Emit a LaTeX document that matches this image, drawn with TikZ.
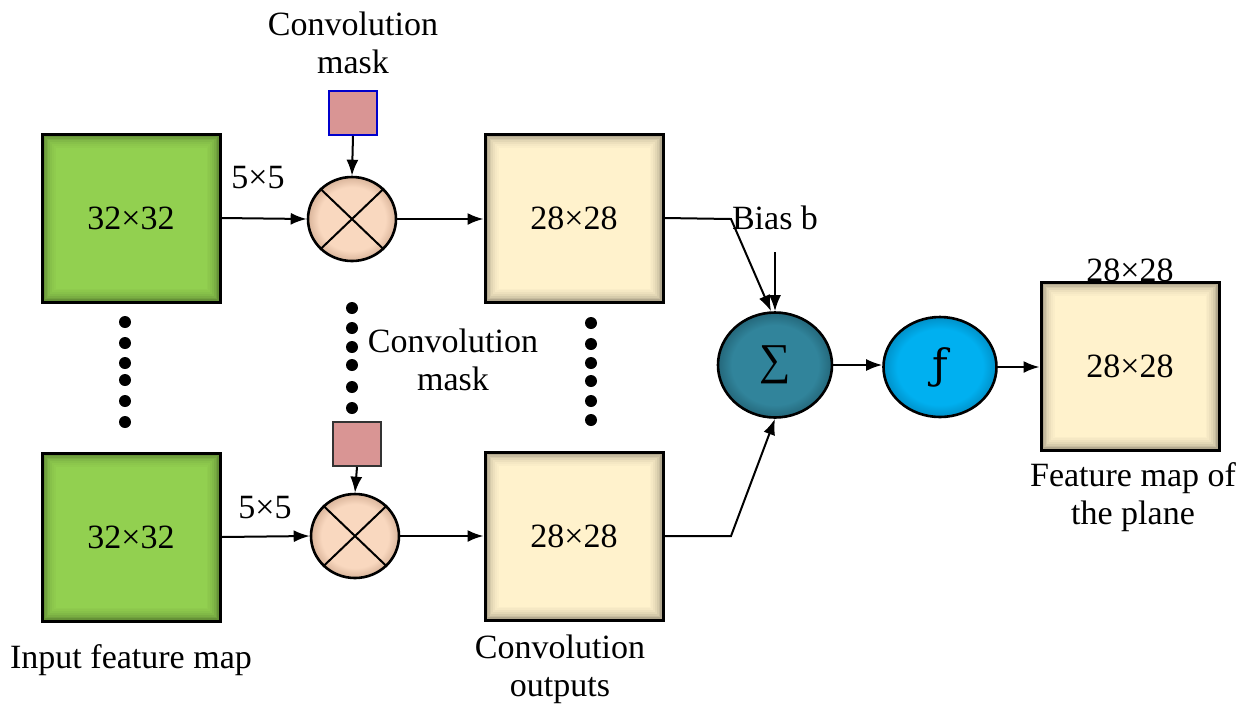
\documentclass[tikz,border=0pt]{standalone}
\usepackage{fontspec}
\setmainfont{Liberation Serif}
\newfontfamily\dvserif{DejaVu Serif}
\usetikzlibrary{arrows.meta,shapes.geometric}
\definecolor{ingreen}{HTML}{92D050}
\definecolor{outyellow}{HTML}{FFF2CC}
\definecolor{peach}{HTML}{F9D8BF}
\definecolor{peachdk}{HTML}{D9B49A}
\definecolor{teal}{HTML}{31849B}
\definecolor{tealdk}{HTML}{24677A}
\definecolor{fblue}{HTML}{00B0F0}
\definecolor{fbluedk}{HTML}{0090C8}
\definecolor{maskred}{HTML}{D99594}
\definecolor{maskblue}{HTML}{0000CC}
\pgfdeclareradialshading{peachshade}{\pgfpoint{0bp}{0bp}}{color(0bp)=(peach); color(19bp)=(peach); color(25bp)=(peachdk); color(50bp)=(peachdk)}
\pgfdeclareradialshading{tealshade}{\pgfpoint{0bp}{0bp}}{color(0bp)=(teal); color(19bp)=(teal); color(25bp)=(tealdk); color(50bp)=(tealdk)}
\pgfdeclareradialshading{fshade}{\pgfpoint{0bp}{0bp}}{color(0bp)=(fblue); color(19bp)=(fblue); color(25bp)=(fbluedk); color(50bp)=(fbluedk)}
\begin{document}
\begin{tikzpicture}[x=0.5pt,y=-0.5pt,
  txt/.style={font=\fontsize{17}{19}\selectfont, inner sep=0pt, align=center},
  inglow/.style={path picture={
    \foreach \i/\o in {1/0.30,2/0.22,3/0.16,4/0.11,5/0.07,6/0.04,7/0.02}{
      \draw[black, opacity=\o, line width=0.9pt]
        ([shift={(\i*0.9pt,-\i*0.9pt)}]path picture bounding box.north west) rectangle
        ([shift={(-\i*0.9pt,\i*0.9pt)}]path picture bounding box.south east);}}},
  mapbox/.style={draw=black, line width=1.5pt, minimum width=89pt, minimum height=84pt,
    inner sep=0pt, inglow, font=\fontsize{17}{19}\selectfont},
  inbox/.style={mapbox, fill=ingreen},
  outbox/.style={mapbox, fill=outyellow},
  mult/.style={ellipse, draw=black, line width=1.3pt, shading=peachshade,
    minimum width=44pt, minimum height=42pt, inner sep=0pt},
  sumnode/.style={ellipse, draw=black, line width=1.3pt, shading=tealshade,
    minimum width=57pt, minimum height=52.5pt, inner sep=0pt},
  fnode/.style={ellipse, draw=black, line width=1.3pt, shading=fshade,
    minimum width=56.5pt, minimum height=50pt, inner sep=0pt},
  maskbox/.style={draw=black!80, line width=1pt, fill=maskred, minimum width=24pt,
    minimum height=22pt, inner sep=0pt},
  arr/.style={-{Latex[length=8pt,width=6pt]}, line width=1pt},
  link/.style={line width=1pt}
]
\useasboundingbox (0,0) rectangle (1250,709);

% feature maps
\node[inbox] (g1) at (131,218) {32×32};
\node[inbox] (g2) at (131,537) {32×32};
\node[outbox] (y1) at (574,218) {28×28};
\node[outbox] (y2) at (574,536) {28×28};
\node[outbox] (o) at (1130,366) {28×28};

% multipliers
\node[mult] (m1) at (352,219) {};
\node[mult] (m2) at (355,536) {};
\draw[line width=1pt] (m1.north east) -- (m1.south west) (m1.north west) -- (m1.south east);
\draw[line width=1pt] (m2.north east) -- (m2.south west) (m2.north west) -- (m2.south east);

% masks
\node[maskbox, draw=maskblue] (k1) at (353,113) {};
\node[maskbox] (k2) at (357,444) {};

% sum and activation
\node[sumnode] (s) at (775,365) {\fontsize{22}{24}\selectfont ∑};
\node[fnode] (f) at (940,367) {\dvserif\fontsize{21}{24}\selectfont ƒ};

% labels
\node[txt] (lmask1) at (353,43) {Convolution\\mask};
\node[txt] (lmask2) at (453,360) {Convolution\\mask};
\node[txt] (l55a) at (258,178) {5×5};
\node[txt] (l55b) at (265,508) {5×5};
\node[txt] (lin) at (131,660) {Input feature map};
\node[txt] (lconv) at (560,669) {Convolution\\outputs};
\node[txt] (bias) at (775,218) {Bias b};
\node[txt] (ltop) at (1130,270) {28×28};
\node[txt] (lfeat) at (1133,497) {Feature map of\\the plane};

% connectors
\draw[arr] (g1.east) -- (m1.west);
\draw[arr] (m1.east) -- (m1.east -| y1.west);
\draw[arr] (k1.south) -- (m1.north);
\draw[arr] (g2.east) -- (m2.west);
\draw[arr] (m2.east) -- (m2.east -| y2.west);
\draw[arr] (k2.south) -- (m2.north);

\coordinate (c1) at (731,219);
\coordinate (c2) at (731,536);
\draw[arr] (y1.east) -- (c1) -- ([xshift=-2pt]s.north);
\draw[arr] (y2.east) -- (c2) -- (s.south);
\draw[arr] ([yshift=-11pt]bias.south) -- (s.north);
\draw[arr] (s.east) -- (s.east -| f.west);
\draw[arr] (f.east) -- (f.east -| o.west);

% ellipsis dots
\foreach \yy in {322,343,363,380,401,422} \fill (125,\yy) circle (6);
\foreach \yy in {308,328,347,365,387,408} \fill (352,\yy) circle (6);
\foreach \yy in {323,344,363,381,401,420} \fill (591,\yy) circle (6);
\end{tikzpicture}
\end{document}
